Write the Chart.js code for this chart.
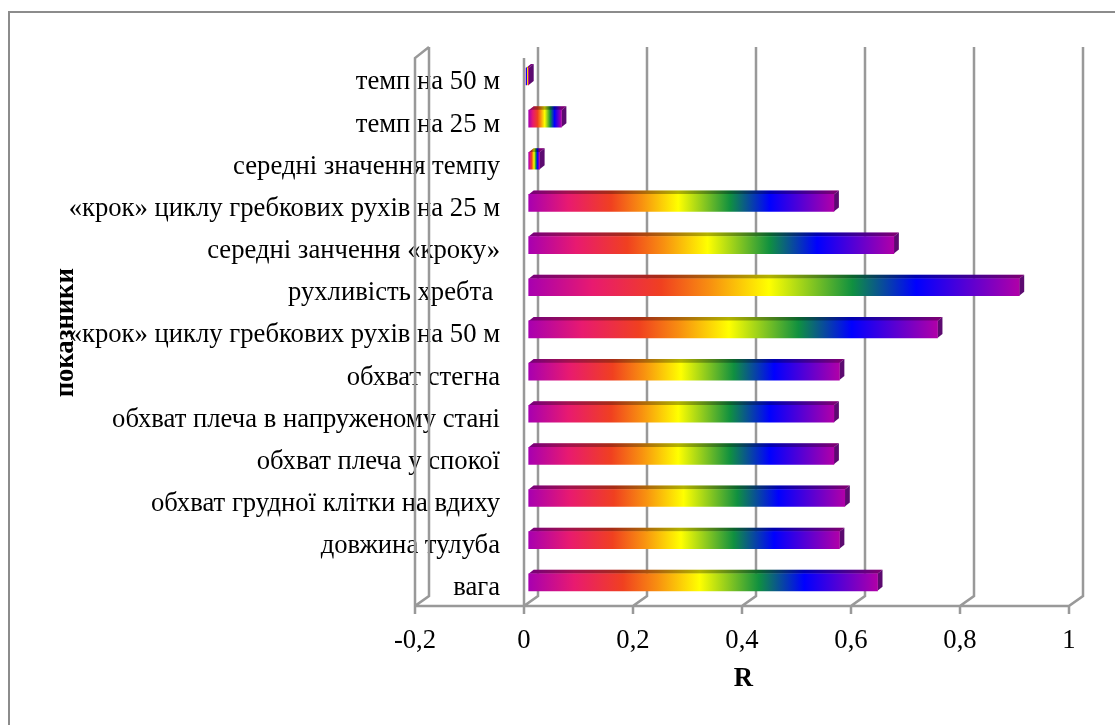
<!DOCTYPE html>
<html>
<head>
<meta charset="utf-8">
<style>
    html, body { margin: 0; padding: 0; background: #fff; overflow: hidden; }
    #wrap { position: relative; width: 1115px; height: 725px; }
    #frame { position: absolute; left: 8px; top: 11px; right: 0; bottom: 0; border-left: 2px solid #8c8c8c; border-top: 2px solid #8c8c8c; }
</style>
<script src="https://cdn.jsdelivr.net/npm/chart.js@4"></script>
</head>
<body>
<div id="wrap">
    <div id="frame"></div>
    <canvas id="corrChart" width="1115" height="725" style="position:absolute;left:0;top:0"></canvas>
</div>
<script>
const categories = [
    'темп на 50 м',
    'темп на 25 м',
    'середні значення темпу',
    '«крок» циклу гребкових рухів на 25 м',
    'середні занчення «кроку»',
    'рухливість хребта ',
    '«крок» циклу гребкових рухів на 50 м',
    'обхват стегна',
    'обхват плеча в напруженому стані',
    'обхват плеча у спокої',
    'обхват грудної клітки на вдиху',
    'довжина тулуба',
    'вага'
];
const values = [-0.005, 0.06, 0.02, 0.56, 0.67, 0.9, 0.75, 0.57, 0.56, 0.56, 0.58, 0.57, 0.64];
const xTickLabels = ['-0,2', '0', '0,2', '0,4', '0,6', '0,8', '1'];

const gridColor = '#999999';
const FONT = '"Liberation Serif", serif';
const FONT_SIZE = 26.67;

// depth of the fake 3D box, the bars sit in the middle of it
const barDepthX = 5, barDepthY = 4;
const frontX = -4.7, backX = 9.3;

// labels run over the plot, mirrored ticks are the only ones chart.js does not clip
function labelPadding(rightEdge) {
    const ctx = document.createElement('canvas').getContext('2d');
    ctx.font = FONT_SIZE + 'px ' + FONT;
    const widest = Math.max(...categories.map(c => ctx.measureText(c).width));
    return rightEdge - widest;
}

function barGradient(context) {
    const chart = context.chart;
    if (!chart.chartArea) return '#a800b0';
    const x = chart.scales.x;
    const x0 = x.getPixelForValue(0);
    const x1 = x.getPixelForValue(context.raw);
    const g = chart.ctx.createLinearGradient(x0, 0, x1, 0);
    g.addColorStop(0, '#a800b0');
    g.addColorStop(0.13, '#e81a70');
    g.addColorStop(0.27, '#f04020');
    g.addColorStop(0.37, '#f89010');
    g.addColorStop(0.49, '#ffff00');
    g.addColorStop(0.66, '#109040');
    g.addColorStop(0.79, '#0000ff');
    g.addColorStop(1, '#b000a8');
    return g;
}

const box3d = {
    id: 'box3d',
    // walls and floor
    beforeDatasetsDraw(chart) {
        const ctx = chart.ctx;
        const xs = chart.scales.x;
        const top = chart.chartArea.top, bottom = chart.chartArea.bottom;
        const floorY = bottom + 2.6;
        ctx.save();
        ctx.strokeStyle = gridColor;
        ctx.lineWidth = 2.5;
        ctx.beginPath();
        xs.ticks.forEach((t, i) => {
            const p = xs.getPixelForTick(i);
            ctx.moveTo(p + frontX, floorY + 8);
            ctx.lineTo(p + frontX, floorY);
            ctx.lineTo(p + backX, floorY - 10);
            ctx.lineTo(p + backX, top - 8.4);
        });
        const left = xs.getPixelForTick(0);
        const right = xs.getPixelForTick(xs.ticks.length - 1);
        ctx.moveTo(left + frontX, floorY);
        ctx.lineTo(right + frontX, floorY);
        // left wall
        ctx.moveTo(left + frontX, floorY);
        ctx.lineTo(left + frontX, top + 2.6);
        ctx.lineTo(left + backX, top - 8.4);
        // category axis at zero
        const zero = xs.getPixelForValue(0) + frontX;
        ctx.moveTo(zero, floorY);
        ctx.lineTo(zero, top + 2.6);
        ctx.stroke();
        ctx.restore();
    },
    // top and side faces, the front is the normal bar
    beforeDatasetDraw(chart, args) {
        const ctx = chart.ctx;
        const meta = chart.getDatasetMeta(args.index);
        meta.data.forEach((el, i) => {
            const l = Math.min(el.x, el.base);
            const r = Math.max(el.x, el.base);
            const t = el.y - el.height / 2;
            const b = el.y + el.height / 2;
            ctx.save();
            ctx.beginPath();
            ctx.moveTo(l, t);
            ctx.lineTo(r, t);
            ctx.lineTo(r + barDepthX, t - barDepthY);
            ctx.lineTo(l + barDepthX, t - barDepthY);
            ctx.closePath();
            ctx.fillStyle = el.options.backgroundColor;
            ctx.fill();
            ctx.fillStyle = 'rgba(0,0,0,0.3)';
            ctx.fill();
            ctx.beginPath();
            ctx.moveTo(r, t);
            ctx.lineTo(r + barDepthX, t - barDepthY);
            ctx.lineTo(r + barDepthX, b - barDepthY);
            ctx.lineTo(r, b);
            ctx.closePath();
            ctx.fillStyle = '#5c0a70';
            ctx.fill();
            ctx.restore();
        });
    }
};

new Chart(document.getElementById('corrChart'), {
    type: 'bar',
    plugins: [box3d],
    data: {
        labels: categories,
        datasets: [{
            data: values,
            backgroundColor: barGradient,
            barThickness: 17
        }]
    },
    options: {
        indexAxis: 'y',
        responsive: false,
        animation: false,
        layout: { padding: { top: 55.4, right: 41.3, left: 0, bottom: 0 } },
        plugins: { legend: { display: false }, tooltip: { enabled: false } },
        scales: {
            x: {
                min: -0.2,
                max: 1,
                grid: { display: false },
                border: { display: false },
                afterFit: s => { s.height = 121.6; },
                ticks: {
                    stepSize: 0.2,
                    maxRotation: 0,
                    labelOffset: -4.7,
                    padding: 14,
                    color: '#000',
                    font: { family: FONT, size: FONT_SIZE },
                    callback: (v, i) => xTickLabels[i]
                },
                title: {
                    display: true,
                    text: 'R ',
                    color: '#000',
                    font: { family: FONT, size: FONT_SIZE, weight: 'bold' },
                    padding: { top: 0, bottom: 30 }
                }
            },
            y: {
                grid: { display: false },
                border: { display: false },
                afterFit: s => { s.width = 419.7; },
                ticks: {
                    autoSkip: false,
                    maxRotation: 0,
                    mirror: true,
                    crossAlign: 'far',
                    labelOffset: 6,
                    padding: labelPadding(80.3),
                    color: '#000',
                    font: { family: FONT, size: FONT_SIZE }
                },
                title: {
                    display: true,
                    text: 'показники ',
                    color: '#000',
                    font: { family: FONT, size: FONT_SIZE, weight: 'bold' },
                    padding: { top: 50, bottom: 0 }
                }
            }
        }
    }
});
</script>
</body>
</html>
